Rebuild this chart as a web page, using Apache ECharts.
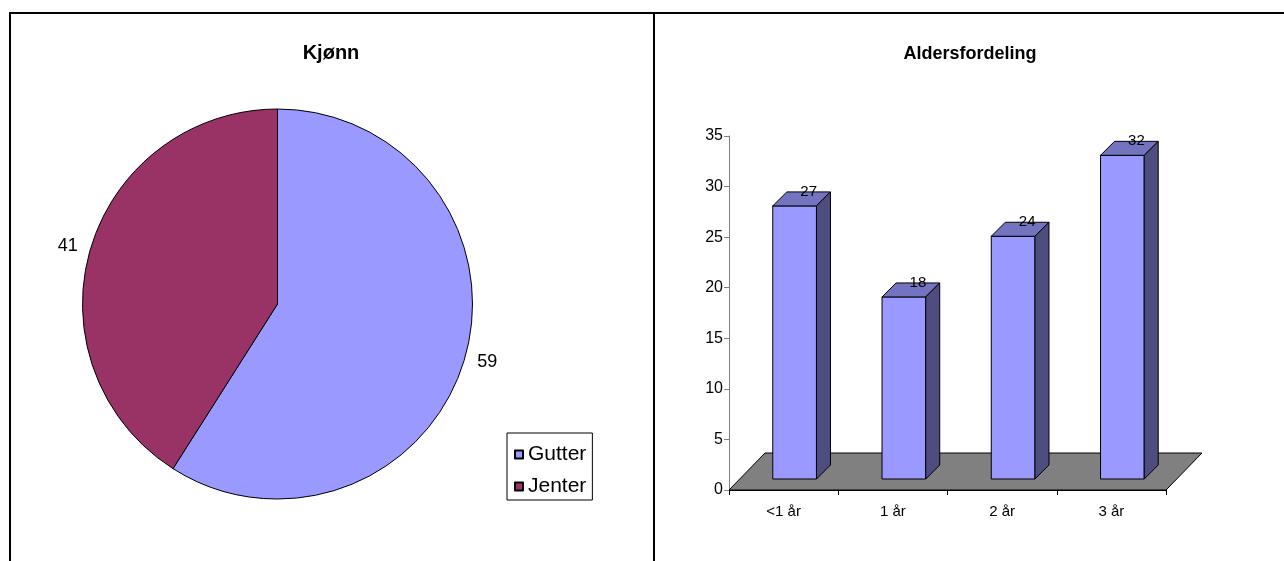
<!DOCTYPE html>
<html>
<head>
<meta charset="utf-8">
<script src="https://cdn.jsdelivr.net/npm/echarts@6/dist/echarts.min.js"></script>
<style>
html,body{margin:0;padding:0;background:#fff;}
#c{width:1284px;height:561px;}
</style>
</head>
<body>
<div id="c"></div>
<script>
// ---- data ----
const pieTitle = 'Kjønn';
const pieCategories = ['Gutter', 'Jenter'];
const pieValues = [59, 41];
const pieColors = ['#9999FF', '#993366'];

const barTitle = 'Aldersfordeling';
const barCategories = ['<1 år', '1 år', '2 år', '3 år'];
const barValues = [27, 18, 24, 32];
const yMin = 0, yMax = 35, yInterval = 5;

const FONT = '"Liberation Sans", Arial, sans-serif';

const chart = echarts.init(document.getElementById('c'), null, {renderer: 'canvas'});

// 3D geometry (pixels)
const FLOOR_DX = 36, FLOOR_DY = 37;
const BAR_OFF = 11, BAR_DEPTH = 14, BAR_FRAC = 0.4;

chart.setOption({
  backgroundColor: '#fff',
  animation: false,
  title: [
    {text: pieTitle, left: 326, top: 38, textAlign: 'center',
     textStyle: {fontFamily: FONT, fontSize: 20, fontWeight: 'bold', color: '#000'}},
    {text: barTitle, left: 965, top: 40, textAlign: 'center',
     textStyle: {fontFamily: FONT, fontSize: 18, fontWeight: 'bold', color: '#000'}}
  ],
  legend: {
    data: pieCategories,
    orient: 'vertical',
    left: 507, top: 433,
    width: 84,
    padding: [11, 6, 3, 7],
    itemGap: 11,
    itemWidth: 8, itemHeight: 8,
    icon: 'rect',
    backgroundColor: '#fff',
    borderColor: '#000', borderWidth: 1,
    textStyle: {fontFamily: FONT, fontSize: 21, color: '#000', lineHeight: 21}
  },
  grid: {left: 729, top: 136, width: 437, height: 354, containLabel: false},
  xAxis: {
    type: 'category', data: barCategories, boundaryGap: true,
    axisLine: {show: true, lineStyle: {color: '#000', width: 1}},
    axisTick: {show: true, length: 5, lineStyle: {color: '#000'}},
    axisLabel: {fontFamily: FONT, fontSize: 15, color: '#000', margin: 14},
    splitLine: {show: false}
  },
  yAxis: {
    type: 'value', min: yMin, max: yMax, interval: yInterval,
    axisLine: {show: true, lineStyle: {color: '#808080', width: 1}},
    axisTick: {show: true, length: 5, lineStyle: {color: '#808080'}},
    axisLabel: {fontFamily: FONT, fontSize: 16, color: '#000', margin: 6},
    splitLine: {show: false}
  },
  series: [
    {
      type: 'pie',
      center: [277.5, 304],
      radius: 195,
      startAngle: 90,
      clockwise: true,
      data: pieCategories.map((n, i) => ({name: n, value: pieValues[i], itemStyle: {color: pieColors[i]}})),
      itemStyle: {borderColor: '#000', borderWidth: 1},
      label: {show: true, position: 'outside', formatter: '{c}', fontFamily: FONT, fontSize: 18,
              color: '#000', distanceToLabelLine: 0},
      labelLine: {show: false, length: 13, length2: 0},
      emphasis: {disabled: true}
    },
    {
      type: 'custom',
      name: 'floor',
      data: [[0, 0]],
      silent: true,
      z: 1,
      renderItem: function (params, api) {
        const cs = params.coordSys;
        const y0 = api.coord([0, yMin])[1];
        const x0 = cs.x, x1 = cs.x + cs.width;
        return {
          type: 'polygon',
          shape: {points: [[x0, y0], [x1, y0], [x1 + FLOOR_DX, y0 - FLOOR_DY], [x0 + FLOOR_DX, y0 - FLOOR_DY]]},
          style: {fill: '#808080', stroke: '#000', lineWidth: 1}
        };
      }
    },
    {
      type: 'custom',
      name: 'bars',
      data: barValues.map((v, i) => [i, v]),
      z: 3,
      renderItem: function (params, api) {
        const i = api.value(0), v = api.value(1);
        const base = api.coord([i, yMin]);
        const top = api.coord([i, v]);
        const band = api.size([1, 0])[0];
        const w = band * BAR_FRAC;
        const cx = base[0] + BAR_OFF;
        const xL = cx - w / 2, xR = cx + w / 2;
        const yB = base[1] - BAR_OFF, yT = top[1] - BAR_OFF;
        const d = BAR_DEPTH;
        const stroke = {stroke: '#000', lineWidth: 1, lineJoin: 'round'};
        return {
          type: 'group',
          children: [
            {type: 'polygon', shape: {points: [[xL, yT], [xR, yT], [xR, yB], [xL, yB]]},
             style: Object.assign({fill: '#9999FF'}, stroke)},
            {type: 'polygon', shape: {points: [[xL, yT], [xR, yT], [xR + d, yT - d], [xL + d, yT - d]]},
             style: Object.assign({fill: '#7373BF'}, stroke)},
            {type: 'polygon', shape: {points: [[xR, yT], [xR + d, yT - d], [xR + d, yB - d], [xR, yB]]},
             style: Object.assign({fill: '#4D4D80'}, stroke)},
            {type: 'text', style: {text: String(v), x: cx + d, y: yT - d, align: 'center', verticalAlign: 'middle',
             font: '15px ' + FONT, fill: '#000'}}
          ]
        };
      }
    }
  ],
  graphic: [
    {type: 'line', shape: {x1: 9, y1: 13, x2: 1284, y2: 13}, style: {stroke: '#000', lineWidth: 2}, silent: true},
    {type: 'line', shape: {x1: 10, y1: 12, x2: 10, y2: 561}, style: {stroke: '#000', lineWidth: 2}, silent: true},
    {type: 'line', shape: {x1: 654, y1: 12, x2: 654, y2: 561}, style: {stroke: '#000', lineWidth: 2}, silent: true}
  ]
});
</script>
</body>
</html>
